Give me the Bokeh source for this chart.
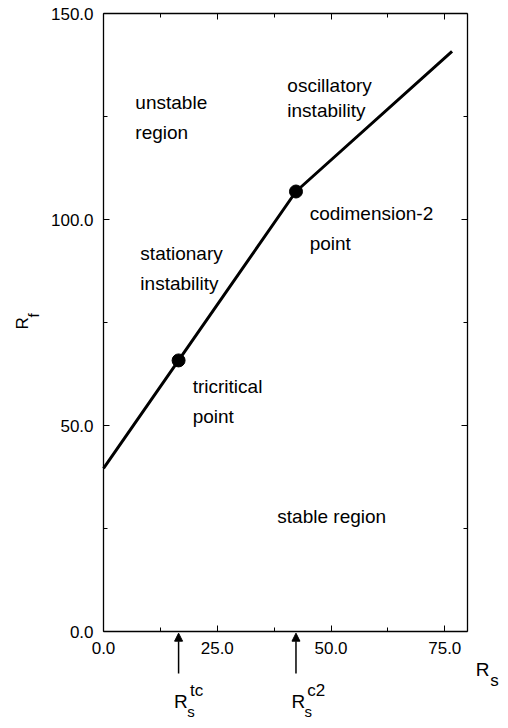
from bokeh.plotting import figure
from bokeh.models import (Range1d, FixedTicker, PrintfTickFormatter, CustomJSTickFormatter,
                          LinearAxis, Label, Arrow, NormalHead)
from bokeh.embed import file_html
from bokeh.resources import INLINE

# data
rs = [0.0, 16.5, 42.3, 76.6]
rf = [39.6, 65.8, 106.8, 140.8]
pt_rs = [16.5, 42.3]
pt_rf = [65.8, 106.8]
x_ticks = [0, 25, 50, 75]
x_minor = [12.5, 37.5, 62.5]
y_ticks = [0, 50, 100, 150]
y_minor = [25, 75, 125]
x_lim = (0, 80)
y_lim = (0, 150)

FONT = "Liberation Sans"

# frame covers the whole canvas; the axes are placed at fixed data locations
p = figure(width=500, height=720, x_range=Range1d(-22.64, 87.25), y_range=Range1d(-21.6, 153.16),
           x_axis_type=None, y_axis_type=None,
           output_backend="svg", toolbar_location=None,
           min_border_left=0, min_border_right=0, min_border_top=0, min_border_bottom=0)
p.grid.visible = False
p.outline_line_color = None
p.background_fill_color = "white"
p.border_fill_color = "white"


def make_axis(ticks, minor, loc, bounds, show_labels=True):
    ax = LinearAxis(fixed_location=loc, bounds=bounds)
    ax.ticker = FixedTicker(ticks=ticks, minor_ticks=minor)
    ax.axis_line_color = "black"
    ax.axis_line_width = 1.3
    ax.major_tick_in = 6
    ax.major_tick_out = 0
    ax.minor_tick_in = 4
    ax.minor_tick_out = 0
    ax.major_tick_line_color = "black"
    ax.minor_tick_line_color = "black"
    ax.major_label_text_font = FONT
    ax.major_label_text_color = "black"
    ax.major_label_text_font_size = "17px"
    if show_labels:
        ax.formatter = PrintfTickFormatter(format="%.1f")
        ax.major_label_standoff = 10
    else:
        ax.formatter = CustomJSTickFormatter(code="return '';")
        ax.major_label_standoff = 0
    return ax


p.add_layout(make_axis(x_ticks, x_minor, y_lim[0], x_lim), "below")
p.add_layout(make_axis(y_ticks, y_minor, x_lim[0], y_lim), "left")
p.add_layout(make_axis(x_ticks, x_minor, y_lim[1], x_lim, False), "above")
p.add_layout(make_axis(y_ticks, y_minor, x_lim[1], y_lim, False), "right")

p.line(rs, rf, line_color="black", line_width=3)
p.scatter(pt_rs, pt_rf, size=13, fill_color="black", line_color="black")


def lab(x, y, text, size="19px", angle=0.0):
    p.add_layout(Label(x=x, y=y, text=text, text_font=FONT, text_font_size=size,
                       text_baseline="middle", text_align="left", angle=angle,
                       text_color="black"))


lab(7.0, 128.4, "unstable")
lab(7.0, 121.1, "region")
lab(8.1, 91.7, "stationary")
lab(8.1, 84.5, "instability")
lab(40.4, 132.5, "oscillatory")
lab(40.4, 126.5, "instability")
lab(45.3, 101.5, "codimension-2")
lab(45.3, 94.2, "point")
lab(19.6, 59.5, "tricritical")
lab(19.6, 52.2, "point")
lab(38.2, 27.9, "stable region")

# arrows marking special R_s values
for xv in pt_rs:
    p.add_layout(Arrow(x_start=xv, y_start=-10.2, x_end=xv, y_end=-0.4,
                       line_color="black", line_width=1.5,
                       end=NormalHead(size=8, fill_color="black", line_color="black")))

sups = ["tc", "c2"]
for xv, sup in zip(pt_rs, sups):
    lab(xv - 1.0, -17.1, "R", size="19px")
    lab(xv + 1.9, -19.3, "s", size="15px")
    lab(xv + 2.5, -14.3, sup, size="17px")

# axis titles
lab(81.8, -9.1, "R", size="19px")
lab(85.0, -11.9, "s", size="17px")
lab(-17.8, 73.3, "R", size="17px", angle=1.5708)
lab(-15.4, 76.2, "f", size="15px", angle=1.5708)

open("out.html", "w").write(file_html(p, INLINE))
